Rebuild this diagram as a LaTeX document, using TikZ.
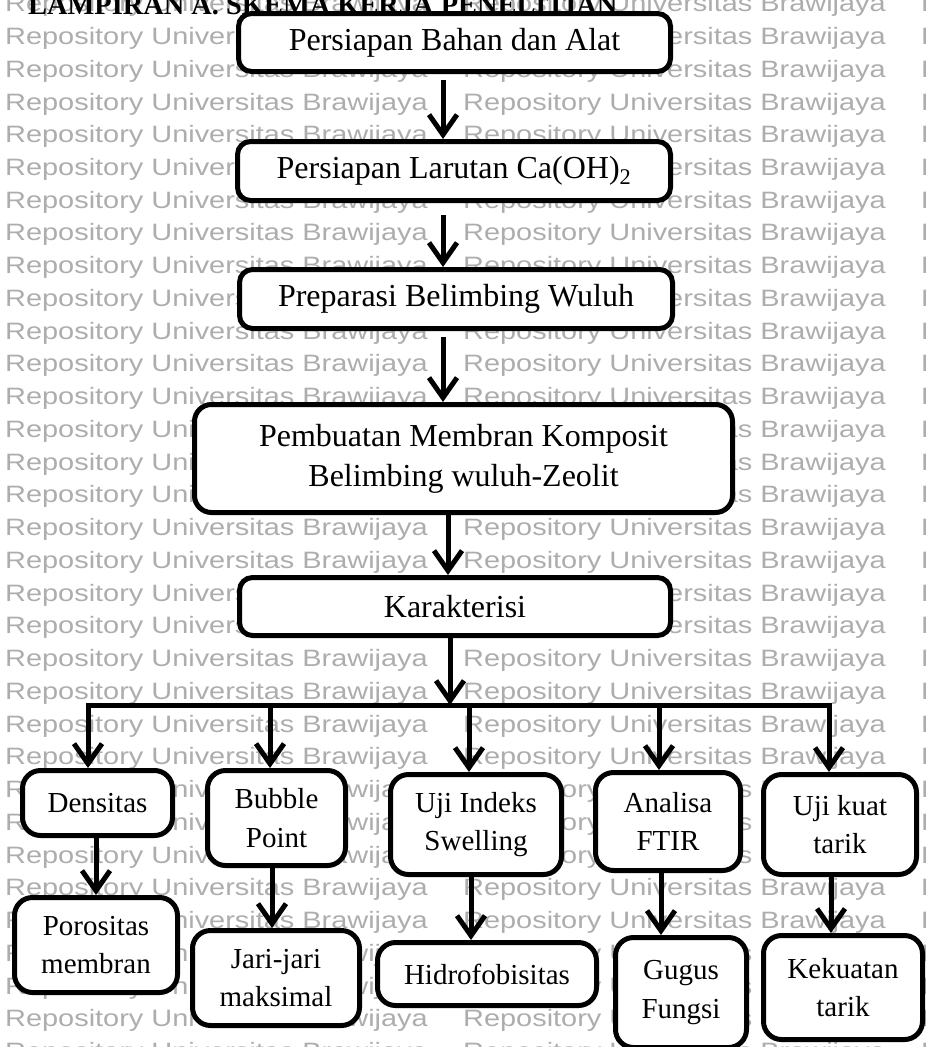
\documentclass[tikz,border=0pt]{standalone}
\usepackage{fontspec}
\setmainfont{Liberation Serif}
\newfontfamily\wmfont{Liberation Sans}
\usetikzlibrary{arrows.meta}
\tikzset{
  upbox/.style={draw, line width=5pt, fill=white, rounded corners=13pt, inner sep=0pt, outer sep=2.5pt, align=center, font=\fontsize{32}{40}\selectfont},
  lowbox/.style={draw, line width=5pt, fill=white, rounded corners=18pt, inner sep=0pt, outer sep=2.5pt, align=center, font=\fontsize{29}{38.5}\selectfont},
  arr/.style={line width=5pt, -{Straight Barb[length=20pt,width=28pt]}},
  barline/.style={line width=5pt, line cap=rect},
  wm/.style={anchor=base west, inner sep=0pt, text=black!32, font=\wmfont\fontsize{23.7}{28}\selectfont},
  ttl/.style={anchor=base west, inner sep=0pt, font=\bfseries\fontsize{28.4}{30}\selectfont},
}
\begin{document}
\begin{tikzpicture}[x=1pt,y=-1pt]
\useasboundingbox (0,0) rectangle (926,1047);
\clip (0,0) rectangle (926,1047);
% watermark
\foreach \k in {0,...,32}{
  \foreach \c [count=\i] in {5,463,921}{
    \node[wm] (wm-\k-\i) at (\c,{11.8+32.74*\k}) {\scalebox{1.22}[1]{Repository Universitas Brawijaya}};
  }
}
% title
\node[ttl] (title) at (28,14) {LAMPIRAN A. SKEMA KERJA PENELITIAN};
% main boxes
\node[upbox, minimum width=432pt, minimum height=58pt] (b1) at (454.5,42.5) {Persiapan Bahan dan Alat};
\node[upbox, minimum width=433pt, minimum height=59pt] (b2) at (454,171) {Persiapan Larutan Ca(OH)\textsubscript{2}};
\node[upbox, minimum width=433pt, minimum height=59pt] (b3) at (456,299) {Preparasi Belimbing Wuluh};
\node[upbox, rounded corners=17pt, minimum width=538pt, minimum height=108pt] (b4) at (463.5,458.5) {Pembuatan Membran Komposit\\Belimbing wuluh-Zeolit};
\node[upbox, minimum width=431pt, minimum height=58pt] (b5) at (455,606.5) {Karakterisi};
% lower boxes
\node[lowbox, minimum width=150pt, minimum height=65pt] (d1) at (97.5,803) {Densitas};
\node[lowbox, minimum width=138pt, minimum height=95pt] (d2) at (276.5,818) {Bubble\\Point};
\node[lowbox, minimum width=171pt, minimum height=100pt] (d3) at (476,824.5) {Uji Indeks\\Swelling};
\node[lowbox, minimum width=145pt, minimum height=98pt] (d4) at (668,821.5) {Analisa\\FTIR};
\node[lowbox, minimum width=153pt, minimum height=100pt] (d5) at (840,824.5) {Uji kuat\\tarik};
\node[lowbox, minimum width=163pt, minimum height=95pt] (e1) at (96,945) {Porositas\\membran};
\node[lowbox, minimum width=167pt, minimum height=95pt] (e2) at (276,978) {Jari-jari\\maksimal};
\node[lowbox, minimum width=219pt, minimum height=63pt] (e3) at (487,974) {Hidrofobisitas};
\node[lowbox, minimum width=131pt, minimum height=110pt] (e4) at (681,992.5) {Gugus\\Fungsi};
\node[lowbox, minimum width=159pt, minimum height=104pt] (e5) at (843,987.5) {Kekuatan\\tarik};
% guide coordinates
\coordinate (xa) at (443,0);
\coordinate (xb) at (448,0);
\coordinate (jm) at (450,705);
\coordinate (j1) at (88,705);
\coordinate (j2) at (270,705);
\coordinate (j3) at (469,705);
\coordinate (j4) at (659,705);
\coordinate (j5) at (829,705);
\coordinate (s1) at (96,0);
\coordinate (s2) at (272,0);
\coordinate (s3) at (471,0);
\coordinate (s4) at (661,0);
\coordinate (s5) at (831,0);
% main arrows
\draw[arr, shorten <=6pt] (b1.south -| xa) -- (b2.north -| xa);
\draw[arr, shorten <=12pt] (b2.south -| xa) -- (b3.north -| xa);
\draw[arr, shorten <=6pt] (b3.south -| xa) -- (b4.north -| xa);
\draw[arr] (b4.south -| xb) -- (b5.north -| xb);
\draw[barline] (j1) -- (j5);
\draw[arr] (b5.south -| jm) -- (jm);
% branches
\draw[arr] (j1) -- (j1 |- d1.north);
\draw[arr] (j2) -- (j2 |- d2.north);
\draw[arr] (j3) -- (j3 |- d3.north);
\draw[arr] (j4) -- (j4 |- d4.north);
\draw[arr] (j5) -- (j5 |- d5.north);
% second level
\draw[arr] (d1.south -| s1) -- (e1.north -| s1);
\draw[arr] (d2.south -| s2) -- (e2.north -| s2);
\draw[arr] (d3.south -| s3) -- (e3.north -| s3);
\draw[arr] (d4.south -| s4) -- (e4.north -| s4);
\draw[arr] (d5.south -| s5) -- (e5.north -| s5);
\end{tikzpicture}
\end{document}
